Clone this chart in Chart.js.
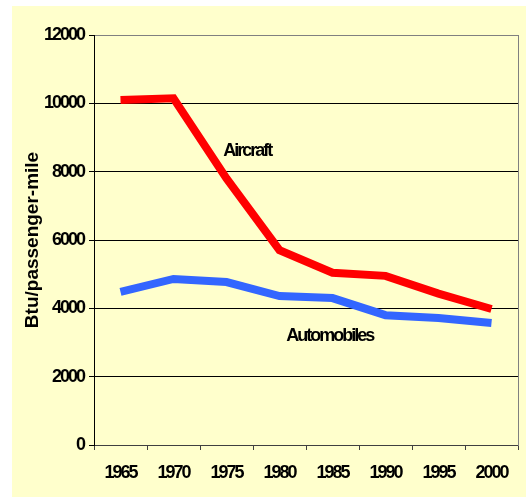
<!DOCTYPE html>
<html>
<head>
<meta charset="utf-8">
<script src="https://cdn.jsdelivr.net/npm/chart.js@4"></script>
<style>
  html, body { margin: 0; padding: 0; background: #ffffff; }
  #wrap { position: relative; width: 526px; height: 500px; }
  #bg { position: absolute; left: 12px; top: 6px; width: 514px; height: 491px; background: #FFFFCC; }
  #c { position: absolute; left: 0; top: 0; }
</style>
</head>
<body>
<div id="wrap">
  <div id="bg"></div>
  <canvas id="c" width="526" height="500"></canvas>
</div>
<script>
const years = ['1965', '1970', '1975', '1980', '1985', '1990', '1995', '2000'];
const aircraft = [10100, 10150, 7800, 5700, 5040, 4950, 4430, 3980];
const automobiles = [4480, 4860, 4770, 4360, 4300, 3800, 3720, 3570];
const yTicks = [0, 2000, 4000, 6000, 8000, 10000, 12000];
const yTitle = 'Btu/passenger-mile';
const seriesLabels = [
  { text: 'Aircraft', x: 2.39, y: 8600 },
  { text: 'Automobiles', x: 3.95, y: 3200 }
];

const FONT = '"Liberation Sans", Arial, sans-serif';

const spacingPlugin = {
  id: 'spacing',
  beforeDraw(chart) { chart.ctx.letterSpacing = '0px'; },
  beforeDatasetsDraw(chart) { chart.ctx.letterSpacing = '-2px'; },
  afterDraw(chart) {
    const ctx = chart.ctx;
    const xs = chart.scales.x, ys = chart.scales.y;
    ctx.save();
    ctx.letterSpacing = '-2px';
    ctx.font = 'bold 18px ' + FONT;
    ctx.fillStyle = '#000';
    ctx.textAlign = 'center';
    ctx.textBaseline = 'middle';
    seriesLabels.forEach(l => {
      ctx.fillText(l.text, xs.getPixelForValue(l.x), ys.getPixelForValue(l.y));
    });
    ctx.restore();
  }
};

new Chart(document.getElementById('c'), {
  type: 'line',
  data: {
    labels: years,
    datasets: [
      { label: 'Aircraft', data: aircraft, borderColor: '#FF0000', backgroundColor: '#FF0000',
        borderWidth: 8, pointRadius: 0, tension: 0, borderJoinStyle: 'miter', fill: false },
      { label: 'Automobiles', data: automobiles, borderColor: '#3366FF', backgroundColor: '#3366FF',
        borderWidth: 8, pointRadius: 0, tension: 0, borderJoinStyle: 'miter', fill: false }
    ]
  },
  options: {
    responsive: false,
    animation: false,
    devicePixelRatio: 1,
    layout: { padding: { left: 0, right: 8, top: 35, bottom: 0 } },
    plugins: { legend: { display: false }, tooltip: { enabled: false } },
    scales: {
      x: {
        offset: true,
        afterFit(s) { s.height = 55; },
        grid: { offset: true, drawOnChartArea: false, tickLength: 5, color: '#404040', tickColor: '#404040' },
        border: { color: '#404040', width: 1 },
        ticks: { z: 1, color: '#000', font: { family: FONT, size: 18, weight: 'bold' }, padding: 12, maxRotation: 0, autoSkip: false }
      },
      y: {
        min: 0, max: 12000,
        afterFit(s) { s.width = 94; },
        afterBuildTicks(s) { s.ticks = yTicks.map(v => ({ value: v })); },
        grid: {
          tickLength: 5,
          color: ctx => (ctx.tick && ctx.tick.value === 12000) ? '#808080' : (ctx.tick && ctx.tick.value === 0 ? '#404040' : '#000000'),
          tickColor: '#000000'
        },
        border: { color: '#000000', width: 1 },
        ticks: { z: 1, color: '#000', font: { family: FONT, size: 18, weight: 'bold' }, padding: 5,
                 callback: v => String(v) },
        title: { display: true, text: yTitle, color: '#000', font: { family: FONT, size: 19, weight: 'bold' }, padding: { top: 21, bottom: 0 } }
      },
      y2: {
        position: 'right',
        min: 0, max: 12000,
        afterFit(s) { s.width = 0; },
        grid: { display: true, drawOnChartArea: false, drawTicks: false },
        border: { display: true, color: '#808080', width: 1 },
        ticks: { display: false }
      }
    }
  },
  plugins: [spacingPlugin]
});
</script>
</body>
</html>
